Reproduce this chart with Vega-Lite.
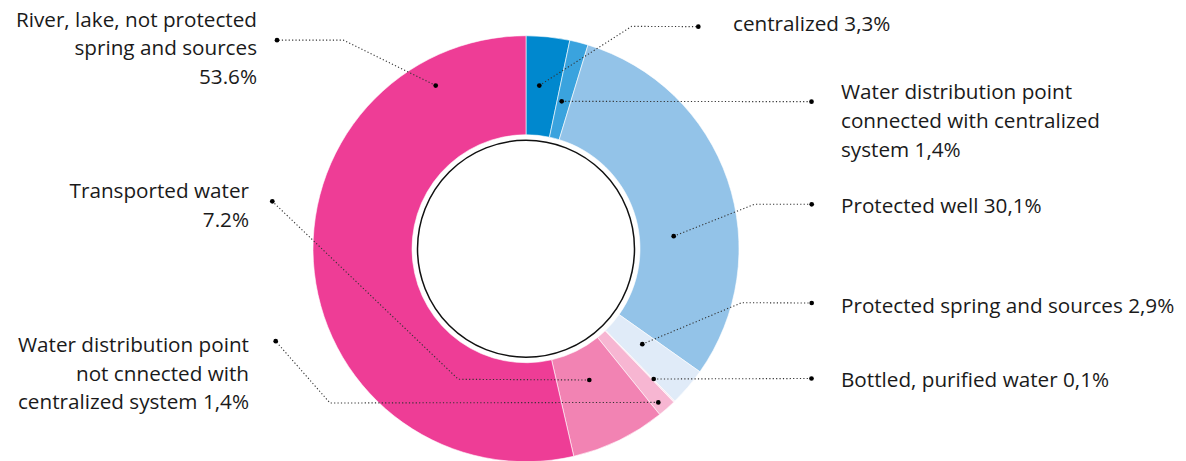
{
  "$schema": "https://vega.github.io/schema/vega-lite/v6.json",
  "width": 1186,
  "height": 461,
  "autosize": {"type": "fit", "contains": "padding"},
  "padding": 0,
  "background": "white",
  "config": {"view": {"stroke": null}},
  "datasets": {
    "slices": [
      {"k": "centralized", "v": 3.3, "o": 1},
      {"k": "connected", "v": 1.4, "o": 2},
      {"k": "well", "v": 30.1, "o": 3},
      {"k": "spring", "v": 2.9, "o": 4},
      {"k": "bottled", "v": 0.1, "o": 5},
      {"k": "notconnected", "v": 1.4, "o": 6},
      {"k": "transported", "v": 7.2, "o": 7},
      {"k": "river", "v": 53.6, "o": 8}
    ],
    "leaders": [
      {"id": "centralized", "s": 1, "x": 13.3, "y": 165.3, "end": true},
      {"id": "centralized", "s": 2, "x": 105.7, "y": 225.3, "end": false},
      {"id": "centralized", "s": 3, "x": 172.3, "y": 225, "end": true},
      {"id": "connected", "s": 1, "x": 35.7, "y": 149.3, "end": true},
      {"id": "connected", "s": 2, "x": 285.5, "y": 149, "end": true},
      {"id": "well", "s": 1, "x": 147.7, "y": 12.7, "end": true},
      {"id": "well", "s": 2, "x": 228.3, "y": 45, "end": false},
      {"id": "well", "s": 3, "x": 285.7, "y": 45, "end": true},
      {"id": "spring", "s": 1, "x": 116.3, "y": -96.7, "end": true},
      {"id": "spring", "s": 2, "x": 215.7, "y": -54.7, "end": false},
      {"id": "spring", "s": 3, "x": 285.7, "y": -55, "end": true},
      {"id": "bottled", "s": 1, "x": 127.7, "y": -132, "end": true},
      {"id": "bottled", "s": 2, "x": 285.5, "y": -131.5, "end": true},
      {"id": "notconnected", "s": 1, "x": 132.3, "y": -155.7, "end": true},
      {"id": "notconnected", "s": 2, "x": -196, "y": -156.3, "end": false},
      {"id": "notconnected", "s": 3, "x": -250.3, "y": -93.7, "end": true},
      {"id": "transported", "s": 1, "x": 63.3, "y": -133, "end": true},
      {"id": "transported", "s": 2, "x": -67.7, "y": -132.3, "end": false},
      {"id": "transported", "s": 3, "x": -253.7, "y": 48, "end": true},
      {"id": "river", "s": 1, "x": -90.3, "y": 165.3, "end": true},
      {"id": "river", "s": 2, "x": -182.7, "y": 211.3, "end": false},
      {"id": "river", "s": 3, "x": -249, "y": 211.3, "end": true}
    ],
    "labels": [
      {"t": "centralized 3,3%", "x": 207, "y": 221, "a": "left"},
      {"t": "Water distribution point\nconnected with centralized\nsystem  1,4%", "x": 315, "y": 152, "a": "left"},
      {"t": "Protected well 30,1%", "x": 315, "y": 36, "a": "left"},
      {"t": "Protected spring and sources 2,9%", "x": 315, "y": -64.7, "a": "left"},
      {"t": "Bottled, purified water 0,1%", "x": 315, "y": -139.7, "a": "left"},
      {"t": "River, lake, not protected\nspring and sources\n53.6%", "x": -269, "y": 225, "a": "right"},
      {"t": "Transported water\n7.2%", "x": -277, "y": 51.3, "a": "right"},
      {"t": "Water distribution point\nnot cnnected with\ncentralized system 1,4%", "x": -277, "y": -104.7, "a": "right"}
    ]
  },
  "layer": [
    {
      "data": {"name": "slices"},
      "mark": {"type": "arc", "outerRadius": 213, "innerRadius": 114, "stroke": "white", "strokeWidth": 0.6},
      "encoding": {
        "theta": {"field": "v", "type": "quantitative", "stack": true},
        "order": {"field": "o", "type": "quantitative"},
        "color": {
          "field": "k", "type": "nominal", "legend": null,
          "scale": {
            "domain": ["centralized", "connected", "well", "spring", "bottled", "notconnected", "transported", "river"],
            "range": ["#0088CE", "#3AA3DE", "#93C3E8", "#E0EBF8", "#FBE3EE", "#F7B6D2", "#F283B3", "#EE3D96"]
          }
        },
        "x": {"datum": 0, "type": "quantitative", "axis": null, "scale": {"domain": [-526, 660], "nice": false, "zero": false}},
        "y": {"datum": 0, "type": "quantitative", "axis": null, "scale": {"domain": [-209, 252], "nice": false, "zero": false}}
      }
    },
    {
      "data": {"values": [{"c": 0}]},
      "mark": {"type": "point", "shape": "circle", "filled": true, "fill": "white", "stroke": "#111", "strokeWidth": 1.5, "size": 47089, "opacity": 1},
      "encoding": {
        "x": {"datum": 0, "type": "quantitative", "axis": null},
        "y": {"datum": 0, "type": "quantitative", "axis": null}
      }
    },
    {
      "data": {"name": "leaders"},
      "mark": {"type": "line", "color": "#333", "strokeWidth": 1.1, "strokeDash": [1.2, 2.2]},
      "encoding": {
        "x": {"field": "x", "type": "quantitative", "axis": null},
        "y": {"field": "y", "type": "quantitative", "axis": null},
        "detail": {"field": "id"},
        "order": {"field": "s", "type": "quantitative"}
      }
    },
    {
      "data": {"name": "leaders"},
      "transform": [{"filter": "datum.end"}],
      "mark": {"type": "point", "shape": "circle", "filled": true, "color": "black", "size": 22, "opacity": 1},
      "encoding": {
        "x": {"field": "x", "type": "quantitative", "axis": null},
        "y": {"field": "y", "type": "quantitative", "axis": null}
      }
    },
    {
      "data": {"name": "labels"},
      "transform": [{"filter": "datum.a === 'left'"}],
      "mark": {"type": "text", "align": "left", "font": "Open Sans", "fontSize": 20.7, "lineBreak": "\n", "lineHeight": 29, "baseline": "alphabetic", "color": "#1a1a1a"},
      "encoding": {
        "x": {"field": "x", "type": "quantitative", "axis": null},
        "y": {"field": "y", "type": "quantitative", "axis": null},
        "text": {"field": "t"}
      }
    },
    {
      "data": {"name": "labels"},
      "transform": [{"filter": "datum.a === 'right'"}],
      "mark": {"type": "text", "align": "right", "font": "Open Sans", "fontSize": 20.7, "lineBreak": "\n", "lineHeight": 28.5, "baseline": "alphabetic", "color": "#1a1a1a"},
      "encoding": {
        "x": {"field": "x", "type": "quantitative", "axis": null},
        "y": {"field": "y", "type": "quantitative", "axis": null},
        "text": {"field": "t"}
      }
    }
  ]
}
